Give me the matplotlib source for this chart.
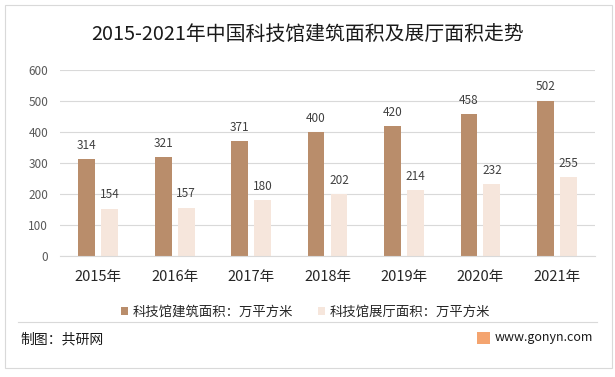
import matplotlib.pyplot as plt
import numpy as np
from matplotlib.patches import Rectangle

plt.rcParams['font.family'] = ['Noto Sans CJK SC', 'DejaVu Sans']

years = ['2015年', '2016年', '2017年', '2018年', '2019年', '2020年', '2021年']
building = [314, 321, 371, 400, 420, 458, 502]
hall = [154, 157, 180, 202, 214, 232, 255]

c_build = '#B98D6B'
c_hall = '#F6E6DC'

fig = plt.figure(figsize=(6.15, 3.77), dpi=100)
ax = fig.add_axes([0.0976, 0.320, 0.87, 0.494])

x = np.arange(len(years))
w = 0.22
b1 = ax.bar(x - 0.15, building, w, color=c_build, label='科技馆建筑面积：万平方米')
b2 = ax.bar(x + 0.15, hall, w, color=c_hall, label='科技馆展厅面积：万平方米')
for bars, vals in [(b1, building), (b2, hall)]:
    for rect, v in zip(bars, vals):
        ax.text(rect.get_x() + rect.get_width() / 2, v + 44, str(v), ha='center', va='center',
                fontsize=8.5, color='#404040')

ax.set_ylim(0, 600)
ax.set_xlim(-0.5, len(years) - 0.5)
ax.set_yticks(range(0, 601, 100))
ax.set_xticks(x)
ax.set_xticklabels(years, fontsize=10.5, color='#262626')
ax.tick_params(axis='y', labelsize=8.5, colors='#595959', length=0, pad=8.5)
ax.tick_params(axis='x', length=0, pad=10)
ax.grid(axis='y', color='#D9D9D9', linewidth=0.8)
ax.set_axisbelow(True)
for s in ['top', 'right', 'left']:
    ax.spines[s].set_visible(False)
ax.spines['bottom'].set_color('#D9D9D9')

fig.legend(loc='center', bbox_to_anchor=(0.497, 0.173), ncol=2, frameon=False,
           fontsize=9.6, handlelength=0.5, handleheight=0.5, columnspacing=1.9,
           handletextpad=0.35, labelcolor='#262626')

fig.text(0.5, 0.907, '2015-2021年中国科技馆建筑面积及展厅面积走势', ha='center', va='center',
         fontsize=14.3, color='#1a1a1a')

# border and separator
fig.add_artist(Rectangle((0.008, 0.024), 0.987, 0.963, transform=fig.transFigure,
                         fill=False, edgecolor='#D9D9D9', linewidth=0.8))
fig.add_artist(plt.Line2D([0.029, 0.971], [0.147, 0.147], transform=fig.transFigure,
                          color='#D9D9D9', linewidth=0.8))

fig.text(0.034, 0.099, '制图：共研网', ha='left', va='center', fontsize=10, color='#1a1a1a')
fig.add_artist(Rectangle((0.776, 0.087), 0.021, 0.032, transform=fig.transFigure,
                         facecolor='#F4A46F', edgecolor='none'))
fig.text(0.964, 0.104, 'www.gonyn.com', ha='right', va='center', fontsize=9, color='#1a1a1a')

fig.savefig('out.png', dpi=100)
